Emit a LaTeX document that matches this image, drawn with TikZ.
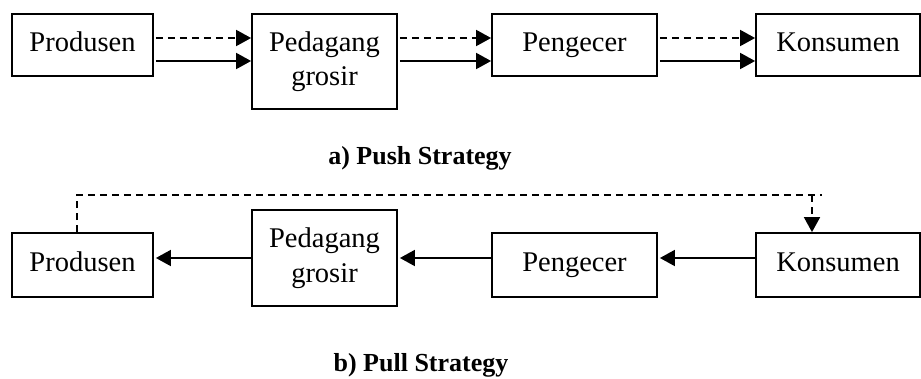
\documentclass[tikz,border=0pt]{standalone}
\usepackage{fontspec}
\setmainfont{Liberation Serif}
\usetikzlibrary{arrows.meta}

\begin{document}
\begin{tikzpicture}[x=1pt,y=-1pt,
  box/.style={draw=black, line width=1.8pt, rectangle, inner sep=0pt,
    font=\fontsize{28.5}{34.5}\selectfont, align=center},
  flow/.style={line width=1.8pt, -{Triangle[length=15pt,width=16pt]}},
  flowdash/.style={flow, dash pattern=on 7pt off 5pt},
  caption/.style={font=\bfseries\fontsize{26}{30}\selectfont, anchor=base}]
\useasboundingbox (0,0) rectangle (921,378);

% ---- a) push strategy ----
\node[box, minimum width=141pt, minimum height=62pt] (prodA) at (82.5,45) {\strut Produsen};
\node[box, minimum width=145pt, minimum height=95pt] (pedA) at (324.5,61.5) {\strut Pedagang\\\strut grosir};
\node[box, minimum width=165pt, minimum height=62pt] (pengA) at (574.5,45) {\strut Pengecer};
\node[box, minimum width=164pt, minimum height=62pt] (konA) at (838,45) {\strut Konsumen};

\coordinate (dy) at (0,38);
\coordinate (sy) at (0,61);
\draw[flowdash, shorten <=2pt] (prodA.east |- dy) -- (pedA.west |- dy);
\draw[flow, shorten <=2pt] (prodA.east |- sy) -- (pedA.west |- sy);
\draw[flowdash, shorten <=2pt] (pedA.east |- dy) -- (pengA.west |- dy);
\draw[flow, shorten <=2pt] (pedA.east |- sy) -- (pengA.west |- sy);
\draw[flowdash, shorten <=2pt] (pengA.east |- dy) -- (konA.west |- dy);
\draw[flow, shorten <=2pt] (pengA.east |- sy) -- (konA.west |- sy);

\node[caption] (capA) at (420,164) {a) Push Strategy};

% ---- b) pull strategy ----
\node[box, minimum width=141pt, minimum height=64pt] (prodB) at (82.5,265) {\strut Produsen};
\node[box, minimum width=145pt, minimum height=96pt] (pedB) at (324.5,258) {\strut Pedagang\\\strut grosir};
\node[box, minimum width=165pt, minimum height=64pt] (pengB) at (574.5,265) {\strut Pengecer};
\node[box, minimum width=164pt, minimum height=64pt] (konB) at (838,265) {\strut Konsumen};

\coordinate (my) at (0,258);
\draw[flow, shorten >=2pt] (pedB.west |- my) -- (prodB.east |- my);
\draw[flow, shorten >=2pt] (pengB.west |- my) -- (pedB.east |- my);
\draw[flow, shorten >=2pt] (konB.west |- my) -- (pengB.east |- my);

\coordinate (fbL) at (77,195);
\coordinate (fbR) at (822,195);
\coordinate (fbD) at (812,195);
\draw[line width=1.8pt, dash pattern=on 7pt off 5pt] (prodB.north -| fbL) -- (fbL) -- (fbR);
\draw[flowdash] (fbD) -- (konB.north -| fbD);

\node[caption] (capB) at (421,371) {b) Pull Strategy};
\end{tikzpicture}
\end{document}
